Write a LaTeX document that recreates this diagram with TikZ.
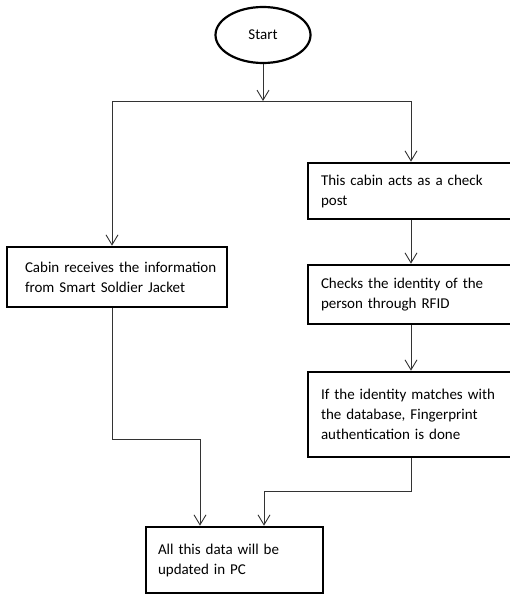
\documentclass[tikz,border=0pt]{standalone}
\usepackage{fontspec}
\setmainfont{Carlito}
\usetikzlibrary{arrows.meta,shapes.geometric}
\begin{document}
\begin{tikzpicture}[x=1pt,y=-1pt,
  txt/.style={font=\fontsize{15}{20}\selectfont},
  stepbox/.style={txt,draw=black,line width=2.6pt,rectangle,inner sep=0pt,align=left},
  conn/.style={draw=black!80,line width=0.9pt},
  tip/.style={conn,-{Straight Barb[length=10pt,width=12pt]}}]
\useasboundingbox (0,0) rectangle (510,594);
\clip (0,0) rectangle (510,594);
\fill[white] (0,0) rectangle (510,594);

\node[txt,ellipse,draw=black,line width=2.2pt,minimum width=95pt,minimum height=56pt,inner sep=0pt] (start) at (263,35) {Start};

\node[stepbox,minimum width=220pt,minimum height=60pt,text width=184pt] (cabin) at (117,277)
  {\mbox{Cabin receives the information}\\\mbox{from Smart Soldier Jacket}};
\node[stepbox,minimum width=206pt,minimum height=56pt,text width=180pt] (check) at (411,191)
  {\mbox{This cabin acts as a check}\\post};
\node[stepbox,minimum width=206pt,minimum height=59pt,text width=180pt] (rfid) at (411,294.5)
  {\mbox{Checks the identity of the}\\\mbox{person through RFID}};
\node[stepbox,minimum width=206pt,minimum height=85pt,text width=180pt] (finger) at (411,414.5)
  {\mbox{If the identity matches with}\\\mbox{the database, Fingerprint}\\\mbox{authentication is done}};
\node[stepbox,minimum width=177pt,minimum height=66pt,text width=153pt] (pc) at (234.5,560)
  {\mbox{All this data will be}\\\mbox{updated in PC}};

\coordinate (split) at (263,101);
\coordinate (lx) at (112,101);
\coordinate (rx) at (411,101);
\coordinate (lj) at (112,439);
\coordinate (pcl) at (200,439);
\coordinate (rj) at (411,491);
\coordinate (pcr) at (264,491);

\draw[tip] (start.south) -- (split);
\draw[conn] (lx) -- (rx);
\draw[tip] (lx) -- (lx |- cabin.north);
\draw[tip] (rx) -- (check.north);
\draw[tip] (check.south) -- (rfid.north);
\draw[tip] (rfid.south) -- (finger.north);
\draw[tip] (lx |- cabin.south) -- (lj) -- (pcl) -- (pcl |- pc.north);
\draw[tip] (finger.south) -- (rj) -- (pcr) -- (pcr |- pc.north);
\end{tikzpicture}
\end{document}
